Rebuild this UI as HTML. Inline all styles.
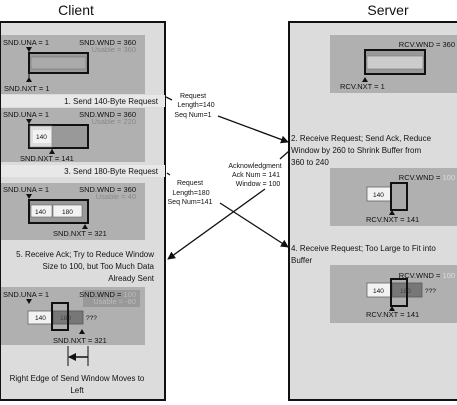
<!DOCTYPE html>
<html><head><style>
body{margin:0;background:#fff;}
svg{display:block;font-family:"Liberation Sans",sans-serif;}
</style></head><body>
<svg width="457" height="405" viewBox="0 0 457 405" xmlns="http://www.w3.org/2000/svg">
<defs><marker id="ah" markerWidth="8" markerHeight="8" refX="7" refY="4" orient="auto" markerUnits="userSpaceOnUse"><path d="M0,0 L8,4 L0,8 z" fill="#111"/></marker></defs>
<text x="76" y="15" font-size="14" text-anchor="middle" fill="#111">Client</text>
<text x="388" y="15" font-size="14" text-anchor="middle" fill="#111">Server</text>
<!-- panels -->
<rect x="0" y="22" width="165" height="378" fill="#dcdcdc" stroke="#111" stroke-width="2"/>
<rect x="289" y="22" width="170" height="378" fill="#dcdcdc" stroke="#111" stroke-width="2"/>
<g font-size="7.5" fill="#111">
<!-- client band1 -->
<rect x="1" y="35" width="144" height="59" fill="#b0b0b0"/>
<text x="3" y="45">SND.UNA = 1</text><text x="136" y="45" text-anchor="end">SND.WND = 360</text>
<text x="136" y="52" text-anchor="end" fill="#888">Usable = 360</text>
<rect x="29" y="53" width="59" height="20" fill="#999" stroke="#111" stroke-width="2"/>
<rect x="31" y="57" width="55" height="12" fill="#aaa" stroke="#777" stroke-width="0.6"/>
<path d="M26,47 L32,47 L29,52z" fill="#111"/><line x1="29" y1="47" x2="29" y2="78" stroke="#111"/>
<path d="M26,82 L32,82 L29,77z" fill="#111"/>
<text x="4" y="91">SND.NXT = 1</text>
<rect x="1" y="95" width="164" height="12" fill="#e8e8e8"/>
<text x="158" y="104" text-anchor="end" font-size="8">1. Send 140-Byte Request</text>
<!-- band2 -->
<rect x="1" y="108" width="144" height="54" fill="#b0b0b0"/>
<text x="3" y="117">SND.UNA = 1</text><text x="136" y="117" text-anchor="end">SND.WND = 360</text>
<text x="136" y="124" text-anchor="end" fill="#888">Usable = 220</text>
<rect x="29" y="125" width="59" height="23" fill="#999" stroke="#111" stroke-width="2"/>
<rect x="30" y="126" width="22" height="21" fill="#ddd" stroke="#888" stroke-width="0.6"/>
<rect x="33" y="130" width="18" height="13" fill="#f2f2f2"/>
<text x="36" y="139" font-size="6.5">140</text>
<path d="M26,119 L32,119 L29,124z" fill="#111"/><line x1="29" y1="119" x2="29" y2="126" stroke="#111"/>
<path d="M49,154 L55,154 L52,149z" fill="#111"/><line x1="52" y1="148" x2="52" y2="154" stroke="#111"/>
<text x="20" y="161">SND.NXT = 141</text>
<rect x="1" y="165" width="164" height="12" fill="#e8e8e8"/>
<text x="158" y="174" text-anchor="end" font-size="8">3. Send 180-Byte Request</text>
<!-- band3 -->
<rect x="1" y="183" width="144" height="57" fill="#b0b0b0"/>
<text x="3" y="192">SND.UNA = 1</text><text x="136" y="192" text-anchor="end">SND.WND = 360</text>
<text x="136" y="199" text-anchor="end" fill="#888">Usable = 40</text>
<rect x="29" y="200" width="59" height="23" fill="#999" stroke="#111" stroke-width="2"/>
<rect x="31" y="205" width="21" height="12" fill="#f2f2f2" stroke="#666" stroke-width="0.6"/>
<rect x="53" y="205" width="29" height="12" fill="#f2f2f2" stroke="#666" stroke-width="0.6"/>
<text x="35" y="214" font-size="6.5">140</text><text x="62" y="214" font-size="6.5">180</text>
<path d="M26,194 L32,194 L29,199z" fill="#111"/>
<path d="M82,229 L88,229 L85,224z" fill="#111"/>
<text x="53" y="236">SND.NXT = 321</text>
<!-- caption 5 -->
<text x="154" y="257" text-anchor="end" font-size="8">5. Receive Ack; Try to Reduce Window</text>
<text x="154" y="269" text-anchor="end" font-size="8">Size to 100, but Too Much Data</text>
<text x="154" y="281" text-anchor="end" font-size="8">Already Sent</text>
<!-- band4 -->
<rect x="1" y="287" width="144" height="58" fill="#b0b0b0"/>
<rect x="83" y="290" width="57" height="17" fill="#999"/>
<text x="3" y="297">SND.UNA = 1</text><text x="136" y="297" text-anchor="end">SND.WND = <tspan fill="#bbb">100</tspan></text>
<text x="136" y="304" text-anchor="end" fill="#bbb">Usable = -80</text>
<path d="M26,299 L32,299 L29,304z" fill="#111"/>
<rect x="28" y="311" width="25" height="13" fill="#f2f2f2" stroke="#666" stroke-width="0.8"/>
<rect x="53" y="311" width="30" height="13" fill="#777" stroke="#555" stroke-width="0.8"/>
<text x="35" y="320" font-size="6.5">140</text><text x="60" y="320" font-size="6.5" fill="#444">180</text>
<text x="86" y="320" font-size="6.5">???</text>
<rect x="52" y="303" width="16" height="27" fill="none" stroke="#111" stroke-width="2"/>
<path d="M79,334 L85,334 L82,329z" fill="#111"/>
<text x="53" y="343">SND.NXT = 321</text>
<line x1="68" y1="346" x2="68" y2="366" stroke="#111"/>
<line x1="88" y1="346" x2="88" y2="366" stroke="#111"/>
<line x1="88" y1="357" x2="69" y2="357" stroke="#111" stroke-width="1.5" marker-end="url(#ah)"/>
<text x="77" y="381" text-anchor="middle" font-size="8">Right Edge of Send Window Moves to</text>
<text x="77" y="393" text-anchor="middle" font-size="8">Left</text>
<!-- server band1 -->
<rect x="330" y="35" width="127" height="58" fill="#b0b0b0"/>
<text x="455" y="47" text-anchor="end">RCV.WND = 360</text>
<rect x="365" y="50" width="60" height="24" fill="#999" stroke="#111" stroke-width="2"/>
<rect x="367" y="56" width="56" height="13" fill="#ccc" stroke="#777" stroke-width="0.6"/>
<path d="M362,82 L368,82 L365,77z" fill="#111"/>
<text x="340" y="89">RCV.NXT = 1</text>
<text x="291" y="141" font-size="8">2. Receive Request; Send Ack, Reduce</text>
<text x="291" y="153" font-size="8">Window by 260 to Shrink Buffer from</text>
<text x="291" y="165" font-size="8">360 to 240</text>
<!-- band2 -->
<rect x="330" y="168" width="127" height="58" fill="#b0b0b0"/>
<text x="455" y="180" text-anchor="end">RCV.WND = <tspan fill="#ddd">100</tspan></text>
<rect x="367" y="187" width="24" height="14" fill="#f2f2f2" stroke="#666" stroke-width="0.8"/>
<text x="373" y="197" font-size="6.5">140</text>
<rect x="391" y="183" width="16" height="27" fill="#aaa" stroke="#111" stroke-width="2"/>
<path d="M389,215 L395,215 L392,210z" fill="#111"/>
<text x="366" y="222">RCV.NXT = 141</text>
<text x="291" y="251" font-size="8">4. Receive Request; Too Large to Fit into</text>
<text x="291" y="263" font-size="8">Buffer</text>
<!-- band3 -->
<rect x="330" y="265" width="127" height="58" fill="#b0b0b0"/>
<text x="455" y="278" text-anchor="end">RCV.WND = <tspan fill="#ddd">100</tspan></text>
<rect x="367" y="283" width="25" height="14" fill="#f2f2f2" stroke="#666" stroke-width="0.8"/>
<rect x="392" y="283" width="30" height="14" fill="#777" stroke="#555" stroke-width="0.8"/>
<text x="373" y="293" font-size="6.5">140</text><text x="400" y="293" font-size="6.5" fill="#444">180</text>
<text x="425" y="293" font-size="6.5">???</text>
<rect x="391" y="279" width="16" height="27" fill="none" stroke="#111" stroke-width="2"/>
<path d="M389,311 L395,311 L392,306z" fill="#111"/>
<text x="366" y="317">RCV.NXT = 141</text>
<!-- middle labels -->
<text x="193" y="98" text-anchor="middle" font-size="7">Request</text>
<text x="196" y="107" text-anchor="middle" font-size="7">Length=140</text>
<text x="193" y="117" text-anchor="middle" font-size="7">Seq Num=1</text>
<text x="255" y="168" text-anchor="middle" font-size="7">Acknowledgment</text>
<text x="256" y="177" text-anchor="middle" font-size="7">Ack Num = 141</text>
<text x="258" y="186" text-anchor="middle" font-size="7">Window = 100</text>
<text x="190" y="185" text-anchor="middle" font-size="7">Request</text>
<text x="191" y="195" text-anchor="middle" font-size="7">Length=180</text>
<text x="190" y="204" text-anchor="middle" font-size="7">Seq Num=141</text>
</g>
<!-- arrows -->
<g stroke="#111" stroke-width="1.3" fill="none">
<line x1="166" y1="97" x2="172" y2="100"/>
<line x1="218" y1="116" x2="288" y2="142" marker-end="url(#ah)"/>
<line x1="289" y1="151" x2="280" y2="159"/>
<line x1="167" y1="173" x2="170" y2="175"/>
<line x1="220" y1="203" x2="288" y2="247" marker-end="url(#ah)"/>
<line x1="265" y1="189" x2="168" y2="259" marker-end="url(#ah)"/>
</g>
</svg>
</body></html>
